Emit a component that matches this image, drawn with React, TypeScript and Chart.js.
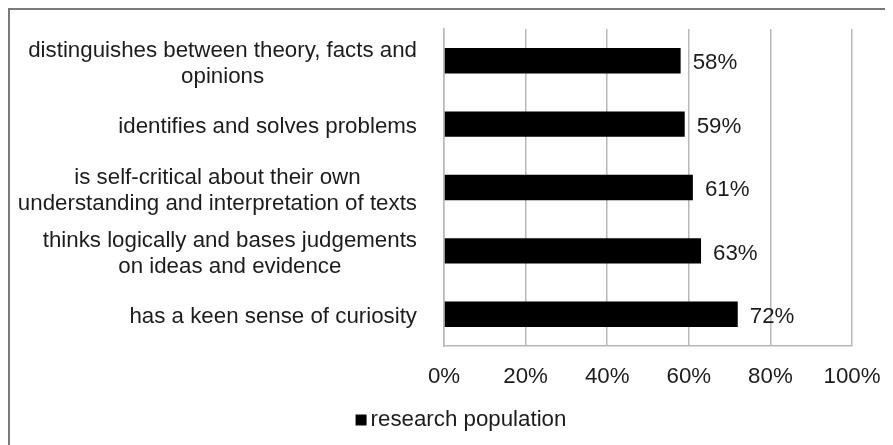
import React, { useEffect, useRef } from "react";
import { Chart, registerables } from "chart.js";

Chart.register(...registerables);

// Category labels, top to bottom (each entry is a list of lines)
const categories: string[][] = [
  ["distinguishes between theory, facts and", "opinions"],
  ["identifies and solves problems"],
  ["is self-critical about their own", "understanding and interpretation of texts"],
  ["thinks logically and bases judgements", "on ideas and evidence"],
  ["has a keen sense of curiosity"],
];

// Share of the research population (%)
const values: number[] = [58, 59, 61, 63, 72];

const seriesName = "research population";

// Axis tick values (%)
const xTicks: number[] = [0, 20, 40, 60, 80, 100];

const FONT_FAMILY = '"Liberation Sans", Arial, sans-serif';
const FONT_SIZE = 22.3;
const TEXT_COLOR = "#1c1c1c";
const GRID_COLOR = "#b8b8b8";
const BAR_COLOR = "#000000";

// Draws the centred multi-line category labels, the value labels at the bar ends
// and a compact legend under the axis
const labelPlugin = {
  id: "labelPlugin",
  afterDatasetsDraw(chart: any) {
    const { ctx, chartArea } = chart;
    const yScale = chart.scales.y;
    ctx.save();
    ctx.font = `${FONT_SIZE}px ${FONT_FAMILY}`;
    ctx.fillStyle = TEXT_COLOR;
    ctx.textBaseline = "middle";

    // category labels: block right-aligned next to the axis, lines centred within the block
    const lineH = 26;
    const rightX = chartArea.left - 27;
    categories.forEach((lines, i) => {
      const y = yScale.getPixelForValue(i) + 3;
      const blockW = Math.max(...lines.map((l) => ctx.measureText(l).width));
      const cx = rightX - blockW / 2;
      ctx.textAlign = "center";
      lines.forEach((line, j) => {
        const ly = y + (j - (lines.length - 1) / 2) * lineH;
        ctx.fillText(line, cx, ly);
      });
    });

    // value labels
    const meta = chart.getDatasetMeta(0);
    ctx.textAlign = "left";
    meta.data.forEach((bar: any, i: number) => {
      ctx.fillText(`${values[i]}%`, bar.x + 12, bar.y + 2.5);
    });

    // legend: small square swatch followed by the series name
    const box = 11;
    const gap = 4;
    const textW = ctx.measureText(seriesName).width;
    const total = box + gap + textW;
    const legendCenterX = 451;
    const legendY = chartArea.bottom + 74;
    const startX = legendCenterX - total / 2;
    ctx.fillStyle = BAR_COLOR;
    ctx.fillRect(startX, legendY - box / 2, box, box);
    ctx.fillStyle = TEXT_COLOR;
    ctx.textAlign = "left";
    ctx.fillText(seriesName, startX + box + gap, legendY);

    ctx.restore();
  },
};

export default function App() {
  const canvasRef = useRef<HTMLCanvasElement | null>(null);

  useEffect(() => {
    document.documentElement.style.overflow = "hidden";
    document.body.style.overflow = "hidden";
    const canvas = canvasRef.current;
    if (!canvas) return;

    const chart = new Chart(canvas, {
      type: "bar",
      data: {
        labels: categories.map((c) => c.join(" ")),
        datasets: [
          {
            label: seriesName,
            data: values,
            backgroundColor: BAR_COLOR,
            borderColor: BAR_COLOR,
            borderWidth: 0,
            barPercentage: 1,
            categoryPercentage: 0.4,
          },
        ],
      },
      options: {
        indexAxis: "y",
        responsive: false,
        animation: false,
        layout: {
          padding: { top: 19, left: 61, right: 41, bottom: 48 },
        },
        font: { family: FONT_FAMILY, size: FONT_SIZE },
        scales: {
          x: {
            min: 0,
            max: 100,
            afterBuildTicks: (scale: any) => {
              scale.ticks = xTicks.map((v) => ({ value: v }));
            },
            afterFit: (scale: any) => {
              scale.height = 51;
              // the layout padding already leaves room for the last tick label
              scale.paddingLeft = 0;
              scale.paddingRight = 0;
            },
            ticks: {
              padding: 17,
              color: TEXT_COLOR,
              font: { family: FONT_FAMILY, size: FONT_SIZE },
              callback: (v: any) => `${v}%`,
            },
            grid: {
              display: true,
              color: GRID_COLOR,
              lineWidth: 1.5,
              drawTicks: false,
            },
            border: { display: true, color: GRID_COLOR, width: 1.5 },
          },
          y: {
            ticks: { display: false },
            afterFit: (scale: any) => {
              scale.width = 373;
            },
            grid: { display: false, drawTicks: false },
            border: { display: true, color: GRID_COLOR, width: 1.5 },
          },
        },
        plugins: {
          legend: { display: false },
          tooltip: { enabled: false },
        },
      },
      plugins: [labelPlugin],
    } as any);

    return () => {
      chart.destroy();
    };
  }, []);

  return (
    <div
      style={{
        width: 885,
        height: 437,
        boxSizing: "border-box",
        borderTop: "2px solid #7a7a7a",
        borderLeft: "2px solid #7a7a7a",
        background: "#ffffff",
      }}
    >
      <canvas
        ref={canvasRef}
        width={883}
        height={435}
        style={{ display: "block", width: 883, height: 435 }}
      />
    </div>
  );
}
